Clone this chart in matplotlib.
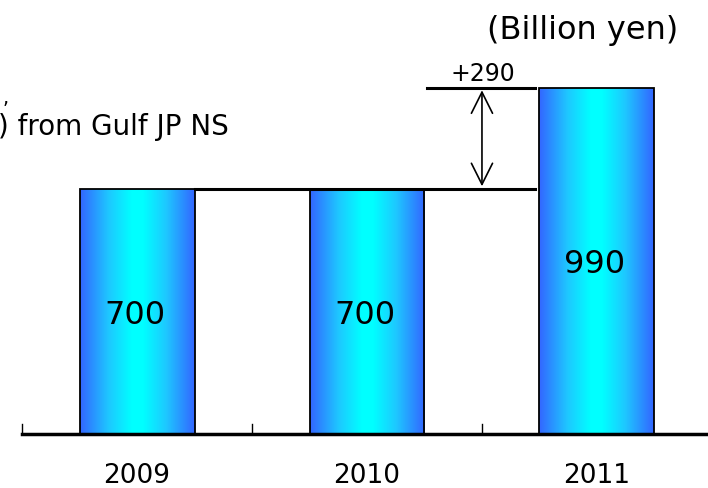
import numpy as np
import matplotlib
matplotlib.use("Agg")
import matplotlib.pyplot as plt
from matplotlib.colors import LinearSegmentedColormap
from matplotlib.patches import Rectangle

years = ["2009", "2010", "2011"]
values = [700, 700, 990]
diff_label = "+290"
unit_label = "(Billion yen)"
note_label = ") from Gulf JP NS"

plt.rcParams["font.family"] = ["DejaVu Sans"]

fig = plt.figure(figsize=(7.08, 4.88), dpi=100)
ax = fig.add_axes([0, 0, 1, 1])
ax.set_xlim(-0.596, 2.483)
ax.set_ylim(-154, 1240)
ax.axis("off")

cmap = LinearSegmentedColormap.from_list(
    "barg",
    [(0, "#3366ff"), (0.25, "#1ec8ff"), (0.45, "#00ffff"), (0.55, "#00ffff"),
     (0.75, "#1ec8ff"), (1, "#3366ff")])
grad = np.linspace(0, 1, 256).reshape(1, -1)
width = 0.5

x = np.arange(len(years))
for xi, v in zip(x, values):
    im = ax.imshow(grad, cmap=cmap, aspect="auto", extent=(xi - width / 2, xi + width / 2, 0, v),
                   zorder=2, interpolation="bilinear")
    rect = Rectangle((xi - width / 2, 0), width, v, facecolor="none", edgecolor="black", lw=1.3, zorder=3)
    ax.add_patch(rect)
    im.set_clip_path(rect)
    ax.text(xi - 0.01, v / 2 - 35, str(v), ha="center", va="baseline", fontsize=23, zorder=4)

# axis line and ticks
ax.plot([-0.5, 2.6], [0, 0], color="black", lw=2.5, zorder=4, clip_on=False)
for t in [-0.5, 0.5, 1.5]:
    ax.plot([t, t], [0, 30], color="black", lw=1, zorder=4)
for xi, yr in zip(x, years):
    ax.text(xi, -120, yr, ha="center", va="center", fontsize=19)

# difference indicator
ax.plot([x[0] + width / 2, 1.73], [values[1], values[1]], color="black", lw=2.2, zorder=4)
ax.plot([1.26, 1.73], [values[2], values[2]], color="black", lw=2.2, zorder=4)
ax.annotate("", xy=(1.5, values[2]), xytext=(1.5, values[1]),
            arrowprops=dict(arrowstyle="<->", lw=1.2, color="black", mutation_scale=38))
ax.text(1.504, values[2] + 40, diff_label, ha="center", va="center", fontsize=17)

ax.text(1.939, 1154, unit_label, ha="center", va="center", fontsize=23)
ax.text(-0.605, 877, note_label, ha="left", va="center", fontsize=20)
ax.text(-0.585, 960, ",", ha="left", va="center", fontsize=14)

fig.savefig("out.png", dpi=100)
